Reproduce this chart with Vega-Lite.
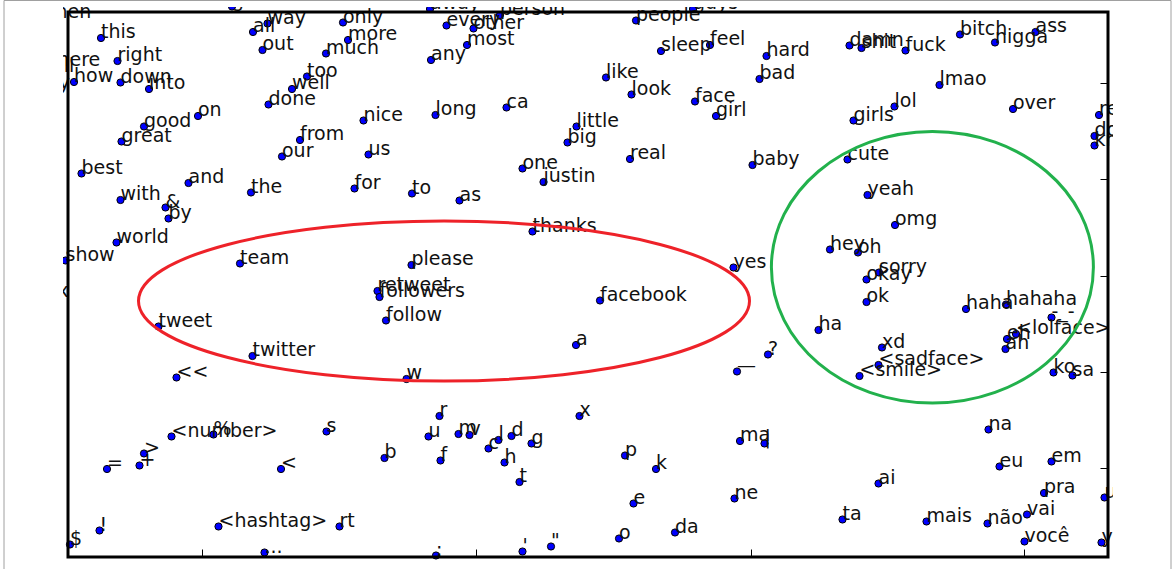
{
  "$schema": "https://vega.github.io/schema/vega-lite/v6.json",
  "width": 1050,
  "height": 555,
  "autosize": "none",
  "padding": {"left": 63, "top": 7, "right": 63, "bottom": 7},
  "background": "white",
  "config": {
    "view": {"stroke": null},
    "font": "DejaVu Sans",
    "axisBottom": {"offset": -5, "labels": false, "domain": false, "grid": false, "ticks": true, "tickSize": -8, "tickColor": "black", "tickWidth": 1, "title": null, "zindex": 1},
    "axisRight": {"offset": -5, "labels": false, "domain": false, "grid": false, "ticks": true, "tickSize": -8, "tickColor": "black", "tickWidth": 1, "title": null, "zindex": 1}
  },
  "datasets": {
    "words": [
      {"word": "then", "x": 48, "y": 18},
      {"word": "this", "x": 101, "y": 38},
      {"word": "there", "x": 50, "y": 66},
      {"word": "will", "x": 43, "y": 72},
      {"word": "day", "x": 35, "y": 89},
      {"word": "how", "x": 74, "y": 82},
      {"word": "right", "x": 117.5, "y": 61},
      {"word": "down", "x": 120.5, "y": 82.5},
      {"word": "into", "x": 149, "y": 89},
      {"word": "all", "x": 253, "y": 32},
      {"word": "way", "x": 267.5, "y": 23.5},
      {"word": "out", "x": 262.5, "y": 50},
      {"word": "only", "x": 343, "y": 22.5},
      {"word": "more", "x": 348, "y": 40},
      {"word": "much", "x": 326, "y": 53.5},
      {"word": "too", "x": 307, "y": 76.5},
      {"word": "well", "x": 292, "y": 89},
      {"word": "done", "x": 268.5, "y": 104.5},
      {"word": "on", "x": 198, "y": 116},
      {"word": "good", "x": 144, "y": 126.5},
      {"word": "great", "x": 121.5, "y": 141.5},
      {"word": "nice", "x": 363.5, "y": 120.5},
      {"word": "from", "x": 300, "y": 140},
      {"word": "our", "x": 282, "y": 156.5},
      {"word": "us", "x": 368.5, "y": 154.5},
      {"word": "best", "x": 81.5, "y": 173.5},
      {"word": "and", "x": 188.5, "y": 183},
      {"word": "the", "x": 251, "y": 192.5},
      {"word": "for", "x": 354.5, "y": 188.5},
      {"word": "with", "x": 120.5, "y": 200},
      {"word": "get", "x": 232, "y": 6.5},
      {"word": "every", "x": 446.5, "y": 25.5},
      {"word": "other", "x": 473.5, "y": 28.5},
      {"word": "most", "x": 467, "y": 45},
      {"word": "any", "x": 431, "y": 60},
      {"word": "people", "x": 636, "y": 20.5},
      {"word": "away", "x": 430, "y": 9},
      {"word": "person", "x": 500, "y": 15},
      {"word": "guys", "x": 693, "y": 9},
      {"word": "sleep", "x": 661, "y": 51},
      {"word": "feel", "x": 710, "y": 45},
      {"word": "hard", "x": 766.5, "y": 56},
      {"word": "like", "x": 606, "y": 77.5},
      {"word": "look", "x": 631.5, "y": 94.5},
      {"word": "bad", "x": 759.5, "y": 79},
      {"word": "face", "x": 695, "y": 101.5},
      {"word": "girl", "x": 716, "y": 116},
      {"word": "long", "x": 435.5, "y": 115},
      {"word": "ca", "x": 506.5, "y": 107.5},
      {"word": "little", "x": 576.5, "y": 126.5},
      {"word": "big", "x": 567.5, "y": 142.5},
      {"word": "real", "x": 630, "y": 159},
      {"word": "baby", "x": 752.5, "y": 165},
      {"word": "one", "x": 522.5, "y": 168.5},
      {"word": "justin", "x": 543.5, "y": 182},
      {"word": "to", "x": 412, "y": 193.5},
      {"word": "as", "x": 459.5, "y": 200.5},
      {"word": "damn", "x": 849.5, "y": 45.5},
      {"word": "shit", "x": 861.5, "y": 48},
      {"word": "fuck", "x": 905.5, "y": 50.5},
      {"word": "bitch", "x": 960, "y": 34.5},
      {"word": "nigga", "x": 995, "y": 42.5},
      {"word": "ass", "x": 1035.5, "y": 32},
      {"word": "lmao", "x": 939.5, "y": 85},
      {"word": "lol", "x": 894.5, "y": 106.5},
      {"word": "girls", "x": 853.5, "y": 120.5},
      {"word": "over", "x": 1013, "y": 109},
      {"word": "really", "x": 1099, "y": 115},
      {"word": "do", "x": 1094.5, "y": 136},
      {"word": "know", "x": 1094.5, "y": 145.5},
      {"word": "cute", "x": 847.5, "y": 159.5},
      {"word": "yeah", "x": 867.5, "y": 195},
      {"word": "omg", "x": 895, "y": 225},
      {"word": "hey", "x": 830, "y": 249.5},
      {"word": "oh", "x": 858, "y": 252.5},
      {"word": "sorry", "x": 879, "y": 272.5},
      {"word": "okay", "x": 866.5, "y": 279.5},
      {"word": "ok", "x": 866.5, "y": 302},
      {"word": "haha", "x": 966, "y": 309},
      {"word": "hahaha", "x": 1006, "y": 304.5},
      {"word": "-_-", "x": 1051.5, "y": 317.5},
      {"word": "<lolface>", "x": 1016, "y": 334},
      {"word": "eh", "x": 1007, "y": 339},
      {"word": "ah", "x": 1005.5, "y": 349},
      {"word": "ha", "x": 818.5, "y": 330},
      {"word": "?", "x": 768, "y": 354.5},
      {"word": "xd", "x": 882, "y": 347.5},
      {"word": "<sadface>", "x": 878.5, "y": 365},
      {"word": "<smile>", "x": 859.5, "y": 376},
      {"word": "ko", "x": 1053.5, "y": 372.5},
      {"word": "sa", "x": 1072.5, "y": 375.5},
      {"word": "yes", "x": 733.5, "y": 267.5},
      {"word": "thanks", "x": 532.5, "y": 231.5},
      {"word": "please", "x": 411.5, "y": 265},
      {"word": "retweet", "x": 377.5, "y": 291},
      {"word": "followers", "x": 379.5, "y": 297},
      {"word": "follow", "x": 386, "y": 320.5},
      {"word": "facebook", "x": 600, "y": 300.5},
      {"word": "a", "x": 576, "y": 345},
      {"word": "w", "x": 406.5, "y": 379},
      {"word": "—", "x": 737, "y": 371.5},
      {"word": "&", "x": 165.5, "y": 207.5},
      {"word": "by", "x": 168.5, "y": 218.5},
      {"word": "world", "x": 116.5, "y": 242.5},
      {"word": "show", "x": 65.5, "y": 260.5},
      {"word": "team", "x": 240, "y": 263.5},
      {"word": "tweet", "x": 158.5, "y": 326.5},
      {"word": "twitter", "x": 252.5, "y": 356},
      {"word": "<<", "x": 176.5, "y": 377.5},
      {"word": "xx", "x": 46, "y": 297},
      {"word": "<number>", "x": 171.5, "y": 436.5},
      {"word": "%", "x": 213.5, "y": 434.5},
      {"word": "s", "x": 326.5, "y": 431.5},
      {"word": ">", "x": 144, "y": 453.5},
      {"word": "+", "x": 139.5, "y": 465.5},
      {"word": "=", "x": 107, "y": 469},
      {"word": "<", "x": 281, "y": 469},
      {"word": "b", "x": 384.5, "y": 458},
      {"word": "!", "x": 99.5, "y": 530.5},
      {"word": "$", "x": 70, "y": 544.5},
      {"word": "<hashtag>", "x": 218.5, "y": 526.5},
      {"word": "rt", "x": 339.5, "y": 526.5},
      {"word": "...", "x": 264.5, "y": 552.5},
      {"word": "r", "x": 439.5, "y": 416},
      {"word": "u", "x": 428.5, "y": 436.5},
      {"word": "m", "x": 458.5, "y": 434},
      {"word": "v", "x": 469.5, "y": 435},
      {"word": "l", "x": 498.5, "y": 440},
      {"word": "d", "x": 511.5, "y": 436},
      {"word": "c", "x": 488.5, "y": 448.5},
      {"word": "g", "x": 531.5, "y": 443.5},
      {"word": "f", "x": 440.5, "y": 460.5},
      {"word": "h", "x": 504.5, "y": 462.5},
      {"word": "t", "x": 519.5, "y": 482},
      {"word": "x", "x": 579.5, "y": 416},
      {"word": "p", "x": 625, "y": 455.5},
      {"word": "k", "x": 656, "y": 469},
      {"word": "e", "x": 633.5, "y": 503.5},
      {"word": "o", "x": 619, "y": 538.5},
      {"word": "da", "x": 675, "y": 532.5},
      {"word": "ma", "x": 740, "y": 441},
      {"word": "|", "x": 764.5, "y": 443.5},
      {"word": "ne", "x": 734.5, "y": 498.5},
      {"word": ":", "x": 436, "y": 555.5},
      {"word": "'", "x": 522.5, "y": 551.5},
      {"word": "\"", "x": 551, "y": 546.5},
      {"word": "na", "x": 988.5, "y": 429.5},
      {"word": "eu", "x": 999.5, "y": 466.5},
      {"word": "em", "x": 1051.5, "y": 461.5},
      {"word": "ai", "x": 878.5, "y": 483.5},
      {"word": "pra", "x": 1044, "y": 493},
      {"word": "um", "x": 1104.5, "y": 497.5},
      {"word": "ta", "x": 842.5, "y": 519.5},
      {"word": "mais", "x": 926.5, "y": 521.5},
      {"word": "não", "x": 987.5, "y": 523.5},
      {"word": "vai", "x": 1027, "y": 514.5},
      {"word": "você", "x": 1024.5, "y": 541.5},
      {"word": "ya", "x": 1101.5, "y": 542.5}
    ]
  },
  "layer": [
    {
      "data": {"values": [{"left": 4, "right": 1171, "top": 0.5, "bottom": 640}]},
      "mark": {"type": "rect", "filled": false, "color": "#a0a0a0", "strokeWidth": 1, "clip": false},
      "encoding": {
        "x": {"field": "left", "type": "quantitative", "scale": {"domain": [63, 1113], "nice": false, "zero": false}, "axis": {"orient": "bottom", "values": [202, 476, 751, 1024]}},
        "x2": {"field": "right"},
        "y": {"field": "top", "type": "quantitative", "scale": {"domain": [7, 562], "reverse": true, "nice": false, "zero": false}, "axis": {"orient": "right", "values": [83, 179, 276, 372, 468]}},
        "y2": {"field": "bottom"}
      }
    },
    {
      "data": {"name": "words"},
      "mark": {"type": "circle", "size": 52, "color": "#0000ff", "stroke": "black", "strokeWidth": 1, "opacity": 1, "clip": true},
      "encoding": {
        "x": {"field": "x", "type": "quantitative", "scale": {"domain": [63, 1113], "nice": false, "zero": false}, "axis": {"orient": "bottom", "values": [202, 476, 751, 1024]}},
        "y": {"field": "y", "type": "quantitative", "scale": {"domain": [7, 562], "reverse": true, "nice": false, "zero": false}, "axis": {"orient": "right", "values": [83, 179, 276, 372, 468]}}
      }
    },
    {
      "data": {"name": "words"},
      "mark": {"type": "text", "align": "left", "baseline": "alphabetic", "fontSize": 19, "font": "DejaVu Sans", "color": "#111111", "clip": true},
      "encoding": {
        "x": {"field": "x", "type": "quantitative", "scale": {"domain": [63, 1113], "nice": false, "zero": false}, "axis": {"orient": "bottom", "values": [202, 476, 751, 1024]}},
        "y": {"field": "y", "type": "quantitative", "scale": {"domain": [7, 562], "reverse": true, "nice": false, "zero": false}, "axis": {"orient": "right", "values": [83, 179, 276, 372, 468]}},
        "text": {"field": "word", "type": "nominal"}
      }
    },
    {
      "data": {"values": [{"left": 68, "right": 1108, "top": 12, "bottom": 557}]},
      "mark": {"type": "rect", "filled": false, "color": "black", "strokeWidth": 3, "clip": false},
      "encoding": {
        "x": {"field": "left", "type": "quantitative", "scale": {"domain": [63, 1113], "nice": false, "zero": false}, "axis": {"orient": "bottom", "values": [202, 476, 751, 1024]}},
        "x2": {"field": "right"},
        "y": {"field": "top", "type": "quantitative", "scale": {"domain": [7, 562], "reverse": true, "nice": false, "zero": false}, "axis": {"orient": "right", "values": [83, 179, 276, 372, 468]}},
        "y2": {"field": "bottom"}
      }
    },
    {
      "data": {"values": [{"group": "twitter words", "cx": 444, "cy": 301}]},
      "mark": {"type": "point", "shape": "M1,0C1,0.1446,0.5523,0.2619,0,0.2619C-0.5523,0.2619,-1,0.1446,-1,0C-1,-0.1446,-0.5523,-0.2619,0,-0.2619C0.5523,-0.2619,1,-0.1446,1,0Z", "size": 373321, "filled": false, "color": "#ee2229", "strokeWidth": 3, "opacity": 1, "clip": false},
      "encoding": {
        "x": {"field": "cx", "type": "quantitative", "scale": {"domain": [63, 1113], "nice": false, "zero": false}, "axis": {"orient": "bottom", "values": [202, 476, 751, 1024]}},
        "y": {"field": "cy", "type": "quantitative", "scale": {"domain": [7, 562], "reverse": true, "nice": false, "zero": false}, "axis": {"orient": "right", "values": [83, 179, 276, 372, 468]}}
      }
    },
    {
      "data": {"values": [{"group": "emotion words", "cx": 932.4, "cy": 267.3}]},
      "mark": {"type": "point", "shape": "M1,0C1,0.4659,0.5523,0.8435,0,0.8435C-0.5523,0.8435,-1,0.4659,-1,0C-1,-0.4659,-0.5523,-0.8435,0,-0.8435C0.5523,-0.8435,1,-0.4659,1,0Z", "size": 103684, "filled": false, "color": "#22b14c", "strokeWidth": 3, "opacity": 1, "clip": false},
      "encoding": {
        "x": {"field": "cx", "type": "quantitative", "scale": {"domain": [63, 1113], "nice": false, "zero": false}, "axis": {"orient": "bottom", "values": [202, 476, 751, 1024]}},
        "y": {"field": "cy", "type": "quantitative", "scale": {"domain": [7, 562], "reverse": true, "nice": false, "zero": false}, "axis": {"orient": "right", "values": [83, 179, 276, 372, 468]}}
      }
    }
  ]
}
